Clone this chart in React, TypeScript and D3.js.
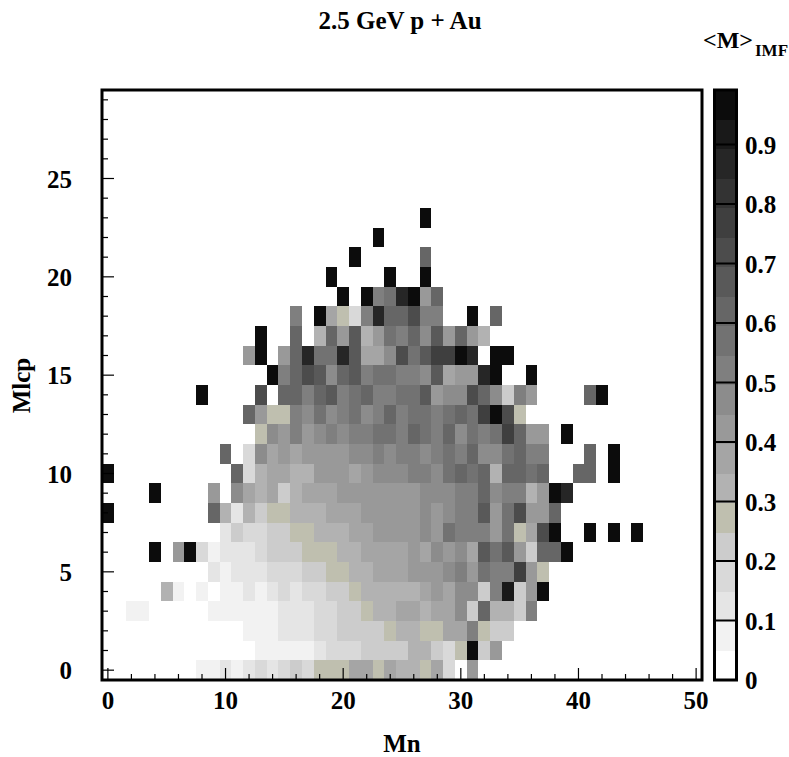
import React from "react";
import * as d3 from "d3";

// <M>_IMF per cell, in percent. Each row holds Mlcp = index; rowStarts gives the first Mn bin of the row.
const row00 = [7,7,12,7,12,17,12,17,22,17,27,27,27,37,37,27,37,32,32,27,37,17,0,42];
const row01 = [7,7,7,7,7,12,17,17,17,22,22,22,22,32,32,22,17,27,97,22,42];
const row02 = [7,7,7,12,12,12,17,17,22,22,22,22,27,32,32,27,27,37,37,52,27,22,22];
const row03 = [7,7,0,0,0,0,0,7,7,7,7,7,7,12,12,12,17,17,22,22,27,32,32,37,37,32,37,37,47,22,62,32,32,22,52];
const row04 = [32,7,0,7,0,7,7,12,7,12,17,12,17,17,22,22,27,32,32,32,32,32,37,42,37,47,47,22,52,92,22,42,97];
const row05 = [12,7,12,12,12,17,17,17,22,22,27,27,32,32,37,37,37,42,42,42,47,52,42,57,52,52,77,42,27];
const row06 = [97,0,42,97,17,7,12,12,12,17,22,22,22,27,27,27,32,32,37,37,37,37,42,37,47,42,47,37,67,57,67,42,22,62,62,97];
const row07 = [12,22,17,17,22,22,27,27,32,32,32,37,37,42,42,42,42,47,42,57,52,52,52,42,57,27,37,72,97,0,0,97,0,97,0,97];
const row08 = [97,0,0,0,0,0,0,0,0,62,32,12,32,22,27,27,32,32,32,37,37,37,42,42,42,42,42,47,42,47,52,52,67,42,57,72,42,42,62];
const row09 = [97,0,0,0,0,42,0,47,37,32,37,22,32,37,37,37,42,42,42,42,42,42,42,47,47,47,52,52,62,47,52,52,32,42,97,87];
const row10 = [97,0,0,0,0,0,0,0,0,0,0,62,17,32,37,37,32,32,42,42,42,37,42,47,47,47,52,52,47,57,62,57,62,32,62,62,57,62,0,0,62,62,0,97];
const row11 = [62,0,17,47,37,42,37,42,42,42,42,47,47,52,47,52,52,47,52,57,52,62,47,47,57,62,52,52,0,0,0,62,0,97];
const row12 = [27,47,42,52,42,47,52,47,52,52,57,57,52,62,57,52,62,47,57,52,57,77,62,42,42,0,97];
const row13 = [62,42,27,27,52,47,57,47,52,57,47,52,62,52,57,57,52,57,62,57,77,97,72,27];
const row14 = [97,0,0,0,0,72,0,62,62,52,62,67,52,57,62,52,52,57,57,67,42,47,47,72,62,47,22,52,42,0,0,0,0,62,97];
const row15 = [97,52,62,72,67,47,62,67,52,57,57,52,52,47,67,37,42,42,87,97,0,0,97];
const row16 = [42,97,0,42,62,87,57,57,87,67,37,37,47,72,57,67,77,77,97,87,0,97,97];
const row17 = [97,0,0,62,0,32,62,42,67,32,42,57,52,62,47,67,42,62,42,32];
const row18 = [52,0,97,37,27,17,52,87,62,62,72,52,52,0,0,97,0,62];
const row19 = [97,0,97,52,57,87,97,42,62];
const row20 = [97,0,0,0,0,97,0,0,97];
const row21 = [97,0,0,0,0,0,62];
const row22 = [97];
const row23 = [97];
const rows = [row00,row01,row02,row03,row04,row05,row06,row07,row08,row09,row10,row11,row12,row13,row14,row15,row16,row17,row18,row19,row20,row21,row22,row23];
const rowStarts = [8,13,12,2,5,9,4,10,0,4,0,10,13,12,8,14,12,13,16,20,19,21,23,27];

const palette = ["#ffffff","#f2f2f2","#e5e5e5","#d9d9d9","#cccccc","#bfbfaf","#b2b2b2","#a5a5a5","#999999","#8c8c8c","#7f7f7f","#727272","#666666","#595959","#4c4c4c","#3f3f3f","#333333","#262626","#191919","#0c0c0c"];
const xTicks = d3.range(0, 51, 2);
const xLabels = [0, 10, 20, 30, 40, 50];
const yTicks = d3.range(0, 30);
const yLabels = [0, 5, 10, 15, 20, 25];
const zTickValues = [0, 0.1, 0.2, 0.3, 0.4, 0.5, 0.6, 0.7, 0.8, 0.9];
const zMax = 0.9916;

const FONT = "'Liberation Serif', 'Times New Roman', serif";
const L = 102, R = 702, T = 90, B = 680;

export default function App() {
  const x = d3.scaleLinear().domain([-0.5, 50.5]).range([L, R]);
  const y = d3.scaleLinear().domain([-0.5, 29.5]).range([B, T]);
  const z = d3.scaleLinear().domain([0, zMax]).range([B, T]);
  const color = d3.scaleQuantize<string>().domain([0, zMax]).range(palette);
  const bands = d3.range(20).map((i) => (i * zMax) / 20);

  return (
    <svg width={789} height={757} style={{ position: "absolute", left: 0, top: 0 }} fontFamily={FONT} fontWeight="bold" fill="#000">
      <rect width={789} height={757} fill="#fff" />
      <text x={400} y={28.5} fontSize={25} textAnchor="middle">2.5 GeV p + Au</text>
      <text x={703} y={48} fontSize={24}>&lt;M&gt;</text>
      <text x={755} y={56} fontSize={17}>IMF</text>

      <g shapeRendering="crispEdges">
        {rows.flatMap((row, j) =>
          row.map((v, k) => {
            const i = rowStarts[j] + k;
            if (!v) return null;
            return (
              <rect key={`${i}-${j}`} x={x(i - 0.5)} width={x(i + 0.5) - x(i - 0.5)} y={y(j + 0.5)} height={y(j - 0.5) - y(j + 0.5)} fill={color(v / 100)} />
            );
          })
        )}
      </g>

      <g stroke="#000" strokeWidth={1.2}>
        {xTicks.map((t) => (
          <line key={t} x1={x(t)} x2={x(t)} y1={B} y2={B - (t % 10 === 0 ? 12 : 6)} />
        ))}
        {yTicks.map((t) => (
          <line key={t} x1={L} x2={L + (t % 5 === 0 ? 12 : 6)} y1={y(t)} y2={y(t)} />
        ))}
      </g>
      <rect x={L} y={T} width={R - L} height={B - T} fill="none" stroke="#000" strokeWidth={3} />

      {xLabels.map((t) => (
        <text key={t} x={x(t)} y={709} fontSize={25} textAnchor="middle">{t}</text>
      ))}
      {yLabels.map((t) => (
        <text key={t} x={72} y={y(t) + 9} fontSize={25} textAnchor="end">{t}</text>
      ))}
      <text x={402} y={751.5} fontSize={25} textAnchor="middle">Mn</text>
      <text transform="translate(30,385.5) rotate(-90)" fontSize={25} textAnchor="middle">Mlcp</text>

      <g shapeRendering="crispEdges">
        {bands.map((b, i) => (
          <rect key={i} x={714} width={23} y={z(b + zMax / 20)} height={z(b) - z(b + zMax / 20)} fill={palette[i]} />
        ))}
      </g>
      {zTickValues.map((t) => (
        <line key={t} x1={714} x2={737} y1={z(t)} y2={z(t)} stroke="#000" strokeWidth={2} />
      ))}
      <rect x={714.5} y={T} width={22} height={B - T} fill="none" stroke="#000" strokeWidth={3} />
      {zTickValues.map((t) => (
        <text key={t} x={745} y={z(t) + 9} fontSize={25}>{t}</text>
      ))}
    </svg>
  );
}
